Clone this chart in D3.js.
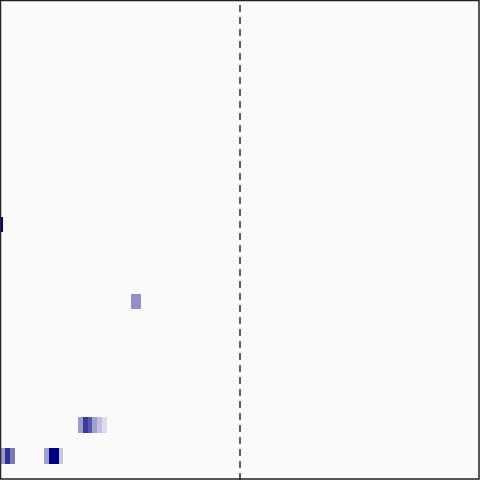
<!DOCTYPE html>
<html>
<head>
<meta charset="utf-8">
<script src="https://cdn.jsdelivr.net/npm/d3@7"></script>
<style>
  html, body { margin: 0; padding: 0; background: #ffffff; }
  svg { display: block; }
</style>
</head>
<body>
<svg id="chart" width="480" height="480"></svg>
<script>
// ---- data ----
const xDomain = [0, 99];          // column units
const yDomain = [0, 31];          // row units (0 = bottom)
const cellRows   = [1, 1, 1, 1, 1, 1, 1, 3, 3, 3, 3, 3, 3, 11, 11, 16];
const cellCols   = [0, 1, 2, 9, 10, 11, 12, 16, 17, 18, 19, 20, 21, 27, 28, 0];
const cellWidths = [1, 1, 1, 1, 1, 1, 1, 1, 1, 1, 1, 1, 1, 1, 1, 0.45];
const cellValues = [0.36, 0.80, 0.49, 0.33, 1.0, 1.0, 0.17, 0.36, 0.76, 0.64, 0.33, 0.20, 0.08, 0.40, 0.40, 1.0];
const markerX = 49.5;             // dashed reference line (column units)

// ---- layout ----
const W = 480, H = 480;
const plot = { left: 0.5, top: 1, right: 479.5, bottom: 479 };

const svg = d3.select("#chart");
const x = d3.scaleLinear().domain(xDomain).range([plot.left, plot.right]);
const y = d3.scaleLinear().domain(yDomain).range([plot.bottom, plot.top]);
const color = d3.scaleLinear().domain([0, 1]).range(["#f0f0f8", "#000080"]).interpolate(d3.interpolateRgb);

svg.append("rect")
  .attr("x", 0).attr("y", 0).attr("width", W).attr("height", H)
  .attr("fill", "#fafafa");

const cells = cellRows.map((r, i) => ({ row: r, col: cellCols[i], w: cellWidths[i], v: cellValues[i] }));

svg.append("g")
  .selectAll("rect")
  .data(cells)
  .join("rect")
  .attr("x", d => x(d.col))
  .attr("y", d => y(d.row + 1))
  .attr("width", d => x(d.col + d.w) - x(d.col))
  .attr("height", d => y(d.row) - y(d.row + 1))
  .attr("fill", d => color(d.v))
  .attr("shape-rendering", "crispEdges");

svg.append("line")
  .attr("x1", x(markerX)).attr("x2", x(markerX))
  .attr("y1", 0).attr("y2", H)
  .attr("stroke", "#2a2a2a")
  .attr("stroke-width", 1.5)
  .attr("stroke-dasharray", "7,5")
  .attr("stroke-dashoffset", 7);

svg.append("rect")
  .attr("x", 0.5).attr("y", 0.5).attr("width", W - 1.5).attr("height", H - 1.5)
  .attr("fill", "none")
  .attr("stroke", "#222")
  .attr("stroke-width", 1.5);
</script>
</body>
</html>
